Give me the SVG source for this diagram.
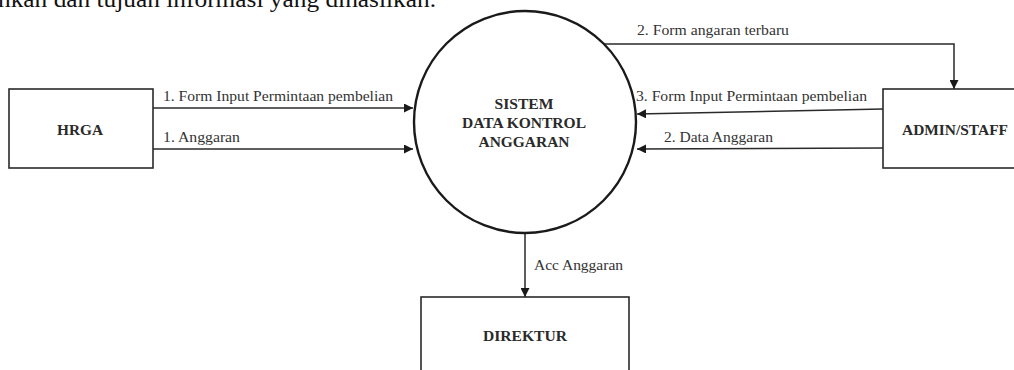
<svg xmlns="http://www.w3.org/2000/svg" width="1014" height="370" viewBox="0 0 1014 370">
  <style>
    .box { fill: #ffffff; stroke: #2a2a2a; stroke-width: 1.6; }
    .proc { fill: #ffffff; stroke: #1a1a1a; stroke-width: 2.4; }
    .flow { fill: none; stroke: #2a2a2a; stroke-width: 1.5; }
    .lbl { font-family: "Liberation Serif", "Times New Roman", serif; font-size: 14px; fill: #333333; }
    .name { font-family: "Liberation Serif", "Times New Roman", serif; font-size: 15px; font-weight: bold; fill: #2a2a2a; text-anchor: middle; }
    .body { font-family: "Liberation Serif", "DejaVu Serif", serif; font-size: 24px; fill: #111111; }
  </style>
  <defs>
    <marker id="arr" viewBox="0 0 10 10" refX="10" refY="5" markerWidth="9" markerHeight="9" markerUnits="userSpaceOnUse" orient="auto">
      <path d="M0,0 L10,5 L0,10 Z" fill="#1a1a1a"/>
    </marker>
  </defs>
  <rect width="1014" height="370" fill="#ffffff"/>

  <text class="body" x="-2" y="7" textLength="438" lengthAdjust="spacingAndGlyphs">nkan dan tujuan informasi yang dihasilkan.</text>

  <g id="connectors">
    <line class="flow" x1="153" y1="108" x2="413" y2="108" marker-end="url(#arr)"/>
    <line class="flow" x1="153" y1="149" x2="413" y2="149" marker-end="url(#arr)"/>
    <polyline class="flow" points="604,44 954,44 954,89" marker-end="url(#arr)"/>
    <line class="flow" x1="883" y1="109" x2="637" y2="114" marker-end="url(#arr)"/>
    <line class="flow" x1="883" y1="148" x2="637" y2="149" marker-end="url(#arr)"/>
    <line class="flow" x1="525" y1="233" x2="525" y2="297" marker-end="url(#arr)"/>
    <text class="lbl" x="163" y="101" textLength="230" lengthAdjust="spacingAndGlyphs">1. Form Input Permintaan pembelian</text>
    <text class="lbl" x="163" y="142" textLength="77" lengthAdjust="spacingAndGlyphs">1. Anggaran</text>
    <text class="lbl" x="637" y="35" textLength="152" lengthAdjust="spacingAndGlyphs">2. Form angaran terbaru</text>
    <text class="lbl" x="636" y="101" textLength="231" lengthAdjust="spacingAndGlyphs">3. Form Input Permintaan pembelian</text>
    <text class="lbl" x="664" y="142" textLength="109" lengthAdjust="spacingAndGlyphs">2. Data Anggaran</text>
    <text class="lbl" x="534" y="270" textLength="89" lengthAdjust="spacingAndGlyphs">Acc Anggaran</text>
  </g>

  <g id="hrga">
    <rect class="box" x="9" y="89" width="144" height="79"/>
    <text class="name" x="80" y="135" textLength="46" lengthAdjust="spacingAndGlyphs">HRGA</text>
  </g>

  <g id="sistem">
    <circle class="proc" cx="525" cy="122" r="111"/>
    <text class="name" x="524" y="109" textLength="59" lengthAdjust="spacingAndGlyphs">SISTEM</text>
    <text class="name" x="524" y="128" textLength="124" lengthAdjust="spacingAndGlyphs">DATA KONTROL</text>
    <text class="name" x="524" y="147" textLength="91" lengthAdjust="spacingAndGlyphs">ANGGARAN</text>
  </g>

  <g id="admin">
    <rect class="box" x="883" y="89" width="140" height="79"/>
    <text class="name" x="955" y="135" textLength="106" lengthAdjust="spacingAndGlyphs">ADMIN/STAFF</text>
  </g>

  <g id="direktur">
    <rect class="box" x="421" y="297" width="208" height="90"/>
    <text class="name" x="525" y="341" textLength="84" lengthAdjust="spacingAndGlyphs">DIREKTUR</text>
  </g>
</svg>
